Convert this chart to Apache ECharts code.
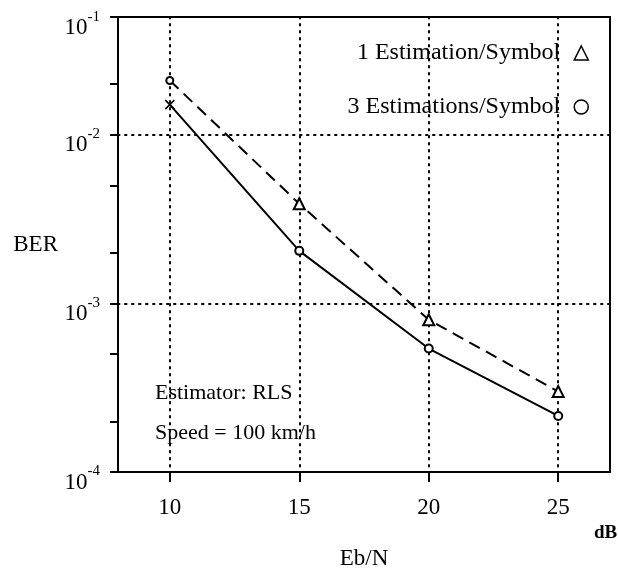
<!DOCTYPE html>
<html>
<head>
<meta charset="utf-8">
<script src="https://cdn.jsdelivr.net/npm/echarts@6/dist/echarts.min.js"></script>
<style>
html,body{margin:0;padding:0;background:#fff;}
#c{width:618px;height:575px;}
</style>
</head>
<body>
<div id="c"></div>
<script>
// ---- data ----
var ebn = [10, 15, 20, 25];
var ber1PerSymbol = [0.021, 0.0039, 0.0008, 0.0003];      // dashed, triangles
var ber3PerSymbol = [0.0151, 0.00205, 0.00054, 0.000215]; // solid, circles
var seriesNames = ['1 Estimation/Symbol', '3 Estimations/Symbol'];
var xTickValues = [10, 15, 20, 25];
var yLabelValues = [0.0001, 0.001, 0.01, 0.0499];
var yMajorTicks = [0.0001, 0.001, 0.01, 0.0499];
var yMinorTicks = [0.0002, 0.0005, 0.002, 0.005, 0.02];
var notes = ['Estimator: RLS', 'Speed = 100 km/h'];

var FONT = 'Liberation Serif';
var chart = echarts.init(document.getElementById('c'), null, {renderer: 'canvas'});

function pts(ys) { return ebn.map(function (x, i) { return [x, ys[i]]; }); }
var d1 = pts(ber1PerSymbol);
var d3 = pts(ber3PerSymbol);
d1[0] = {value: d1[0], symbol: 'emptyCircle', symbolSize: 7};
d3[0] = {value: d3[0], symbol: 'path://M0,0L10,10M10,0L0,10', symbolSize: 9,
         itemStyle: {color: 'none', borderColor: '#000', borderWidth: 1.6}};

var dotted = {color: '#000', width: 2, type: [1.5, 5.5], cap: 'round'};

chart.setOption({
  animation: false,
  backgroundColor: '#fff',
  textStyle: {fontFamily: FONT, color: '#000'},
  grid: {left: 118, right: 8, top: 17, bottom: 101, show: true, borderColor: '#000', borderWidth: 2, containLabel: false},
  legend: {
    orient: 'vertical', right: 24, top: 34, align: 'right',
    itemWidth: 14, itemHeight: 14, itemGap: 26,
    textStyle: {fontFamily: FONT, fontSize: 24, color: '#000', lineHeight: 28, padding: [0, 9, 0, 0]},
    data: [
      {name: seriesNames[0], icon: 'triangle', itemStyle: {color: '#fff', borderColor: '#000', borderWidth: 1.5}},
      {name: seriesNames[1], icon: 'circle', itemStyle: {color: '#fff', borderColor: '#000', borderWidth: 1.5}}
    ]
  },
  xAxis: {
    type: 'value', min: 8, max: 27,
    name: 'Eb/N', nameLocation: 'middle', nameGap: 75,
    nameTextStyle: {fontFamily: FONT, fontSize: 23, color: '#000'},
    axisLine: {lineStyle: {color: '#000', width: 2}},
    axisTick: {customValues: xTickValues, length: 10, lineStyle: {color: '#000', width: 2}},
    axisLabel: {customValues: xTickValues, fontFamily: FONT, fontSize: 23, color: '#000', margin: 24},
    splitLine: {show: true, lineStyle: dotted}
  },
  yAxis: [{
    type: 'log', logBase: 10, min: 0.0001, max: 0.05, position: 'left',
    name: 'BER', nameLocation: 'middle', nameRotate: 0, nameGap: 60,
    nameTextStyle: {fontFamily: FONT, fontSize: 23, color: '#000'},
    axisLine: {show: true, lineStyle: {color: '#000', width: 2}},
    axisTick: {customValues: yMajorTicks, length: 8, lineStyle: {color: '#000', width: 2}},
    axisLabel: {
      customValues: yLabelValues, margin: 18, padding: [14, 0, 0, 0],
      formatter: function (v) { return '{b|10}{s|' + Math.round(Math.log10(v)) + '}'; },
      rich: {
        b: {fontFamily: FONT, fontSize: 23, lineHeight: 30, verticalAlign: 'bottom', color: '#000'},
        s: {fontFamily: FONT, fontSize: 15, lineHeight: 15, verticalAlign: 'top', color: '#000'}
      }
    },
    splitLine: {show: true, lineStyle: dotted}
  }, {
    type: 'log', logBase: 10, min: 0.0001, max: 0.05, position: 'left',
    axisLine: {show: false},
    axisTick: {customValues: yMinorTicks, length: 8, lineStyle: {color: '#000', width: 2}},
    axisLabel: {show: false},
    splitLine: {show: false}
  }],
  series: [{
    name: seriesNames[0], type: 'line', data: d1, yAxisIndex: 0,
    symbol: 'emptyTriangle', symbolSize: 11, color: '#000',
    lineStyle: {color: '#000', width: 2, type: [12, 7]},
    itemStyle: {color: '#000', borderWidth: 1.5}
  }, {
    name: seriesNames[1], type: 'line', data: d3, yAxisIndex: 0,
    symbol: 'emptyCircle', symbolSize: 8, color: '#000',
    lineStyle: {color: '#000', width: 2, type: 'solid'},
    itemStyle: {color: '#000', borderWidth: 1.5}
  }],
  graphic: [
    {type: 'text', left: 155, top: 382, style: {text: notes[0], fontFamily: FONT, fontSize: 22, fill: '#000'}},
    {type: 'text', left: 155, top: 422, style: {text: notes[1], fontFamily: FONT, fontSize: 22, fill: '#000'}},
    {type: 'text', left: 594, top: 524, style: {text: 'dB', fontFamily: FONT, fontSize: 19, fontWeight: 'bold', fill: '#000'}}
  ]
});
</script>
</body>
</html>
